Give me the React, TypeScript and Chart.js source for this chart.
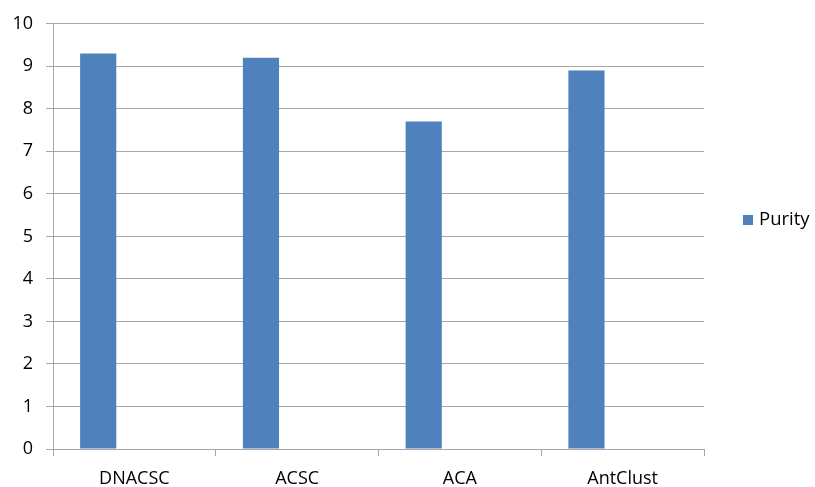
import React, { useEffect, useRef } from "react";
import { Chart, registerables } from "chart.js";

Chart.register(...registerables);

const categories = ["DNACSC", "ACSC", "ACA", "AntClust"];
const purity = [9.3, 9.2, 7.7, 8.9];
const emptySeriesA = [null, null, null, null];
const emptySeriesB = [null, null, null, null];
const yTicks = [0, 1, 2, 3, 4, 5, 6, 7, 8, 9, 10];

const FONT = "'Open Sans', sans-serif";
const BAR_COLOR = "#4F81BD";
const GRID = "#A6A6A6";

const legendPlugin = {
  id: "customLegend",
  afterDraw(chart: any) {
    const ctx = chart.ctx;
    const ds = chart.data.datasets[0];
    ctx.save();
    ctx.fillStyle = ds.backgroundColor;
    ctx.fillRect(743, 215, 10, 10);
    ctx.fillStyle = "#000";
    ctx.font = `18.5px ${FONT}`;
    ctx.textBaseline = "middle";
    ctx.textAlign = "left";
    ctx.fillText(ds.label, 759, 220);
    ctx.restore();
  },
};

export default function App() {
  const ref = useRef<HTMLCanvasElement>(null);
  useEffect(() => {
    if (!ref.current) return;
    const chart = new Chart(ref.current, {
      type: "bar",
      data: {
        labels: categories,
        datasets: [
          { label: "Purity", data: purity, backgroundColor: BAR_COLOR },
          { label: "", data: emptySeriesA as any, backgroundColor: "transparent" },
          { label: "", data: emptySeriesB as any, backgroundColor: "transparent" },
        ],
      },
      options: {
        animation: false,
        responsive: false,
        maintainAspectRatio: false,
        layout: { padding: { top: 21, right: 111, left: 0, bottom: 0 } },
        plugins: {
          legend: { display: false },
          tooltip: { enabled: false },
        },
        datasets: {
          bar: { categoryPercentage: 0.6667, barPercentage: 1 },
        },
        scales: {
          x: {
            grid: {
              display: true,
              drawOnChartArea: false,
              drawTicks: true,
              tickLength: 7,
              color: GRID,
              offset: true,
            },
            border: { display: true, color: GRID },
            ticks: {
              color: "#000",
              font: { family: FONT, size: 18 },
              padding: 12,
              maxRotation: 0,
            },
            afterFit(scale: any) {
              scale.height = 38;
            },
          },
          y: {
            min: 0,
            max: 10,
            afterBuildTicks(scale: any) {
              scale.ticks = yTicks.map((v) => ({ value: v }));
            },
            grid: { color: GRID, tickLength: 7 },
            border: { display: true, color: GRID },
            ticks: {
              color: "#000",
              font: { family: FONT, size: 18 },
              padding: 13,
            },
            afterFit(scale: any) {
              scale.width = 53;
            },
          },
        },
      },
      plugins: [legendPlugin],
    });
    return () => chart.destroy();
  }, []);
  return (
    <div style={{ position: "fixed", left: 0, top: 0, width: 815, height: 487, background: "#fff" }}>
      <canvas ref={ref} width={815} height={487} style={{ width: 815, height: 487 }} />
    </div>
  );
}
